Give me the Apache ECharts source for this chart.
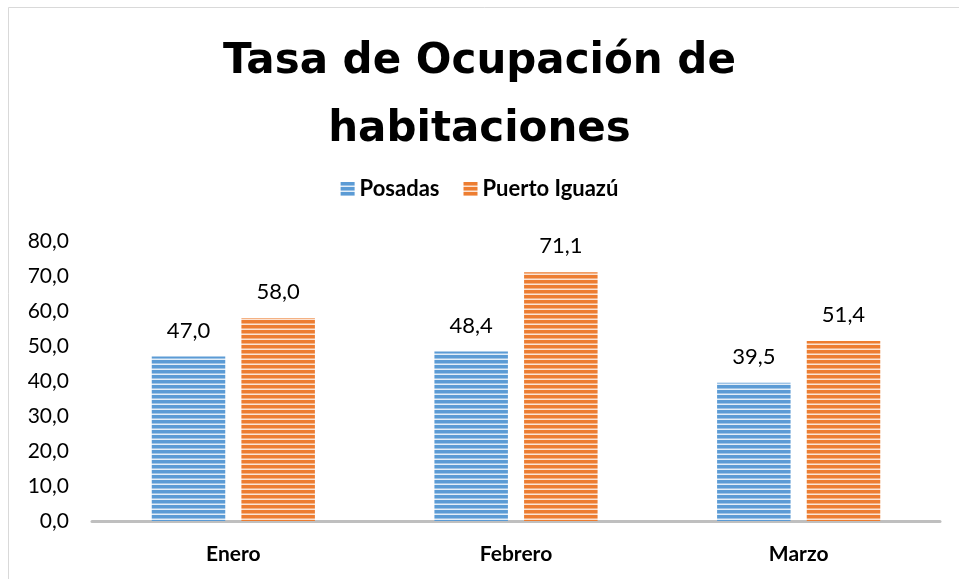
<!DOCTYPE html>
<html>
<head>
<meta charset="utf-8">
<script src="https://cdn.jsdelivr.net/npm/echarts@6/dist/echarts.min.js"></script>
<style>
html,body{margin:0;padding:0;background:#fff;}
#c{width:959px;height:579px;}
</style>
</head>
<body>
<div id="c"></div>
<script>
var categories = ['Enero', 'Febrero', 'Marzo'];
var posadas = [47.0, 48.4, 39.5];
var iguazu = [58.0, 71.1, 51.4];
var seriesNames = ['Posadas', 'Puerto Iguazú'];
var titleText = 'Tasa de Ocupación de\nhabitaciones';

function stripe(base, mid, light) {
  var cv = document.createElement('canvas');
  cv.width = 8; cv.height = 5;
  var ctx = cv.getContext('2d');
  ctx.fillStyle = base; ctx.fillRect(0, 0, 8, 3);
  ctx.fillStyle = mid; ctx.fillRect(0, 3, 8, 1);
  ctx.fillStyle = light; ctx.fillRect(0, 4, 8, 1);
  return { image: cv, repeat: 'repeat' };
}
var bluePat = stripe('#5B9BD5', '#9DC3E6', '#E3EEF8');
var orangePat = stripe('#ED7D31', '#F4B183', '#FBE3D3');

var fmt = function (v) { return Number(v).toFixed(1).replace('.', ','); };

var chart = echarts.init(document.getElementById('c'), null, { renderer: 'canvas' });
chart.setOption({
  backgroundColor: '#fff',
  animation: false,
  graphic: [{
    type: 'rect', silent: true,
    shape: { x: 8.5, y: 7.5, width: 1000, height: 1000 },
    style: { fill: 'none', stroke: '#D9D9D9', lineWidth: 1 }
  }],
  title: {
    text: titleText,
    left: 'center', top: 23,
    textStyle: {
      fontFamily: 'DejaVu Sans', fontWeight: 'bold', fontSize: 42,
      color: '#000', lineHeight: 68
    }
  },
  legend: {
    top: 173, left: 'center',
    itemWidth: 14, itemHeight: 14, itemGap: 24,
    icon: 'rect',
    textStyle: { fontFamily: 'Lato', fontWeight: 'bold', fontSize: 22, color: '#000' },
    data: seriesNames
  },
  grid: { left: 92, right: 19, top: 241, bottom: 58 },
  xAxis: {
    type: 'category', data: categories,
    axisLine: { lineStyle: { color: '#BFBFBF', width: 3 } },
    axisTick: { show: false },
    axisLabel: { margin: 23, fontFamily: 'Lato', fontWeight: 'bold', fontSize: 21, color: '#000' }
  },
  yAxis: {
    type: 'value', min: 0, max: 80, interval: 10,
    splitLine: { show: false },
    axisLine: { show: false }, axisTick: { show: false },
    axisLabel: { margin: 23, fontFamily: 'Lato', fontSize: 21, color: '#000', formatter: fmt }
  },
  series: [{
    name: seriesNames[0], type: 'bar', data: posadas,
    barWidth: '26%', barGap: '22%',
    itemStyle: { color: bluePat },
    label: { show: true, position: 'top', distance: 15, fontFamily: 'Lato', fontSize: 22, color: '#000', formatter: function (p) { return fmt(p.value); } }
  }, {
    name: seriesNames[1], type: 'bar', data: iguazu,
    barWidth: '26%', barGap: '22%',
    itemStyle: { color: orangePat },
    label: { show: true, position: 'top', distance: 15, fontFamily: 'Lato', fontSize: 22, color: '#000', formatter: function (p) { return fmt(p.value); } }
  }]
});
</script>
</body>
</html>
